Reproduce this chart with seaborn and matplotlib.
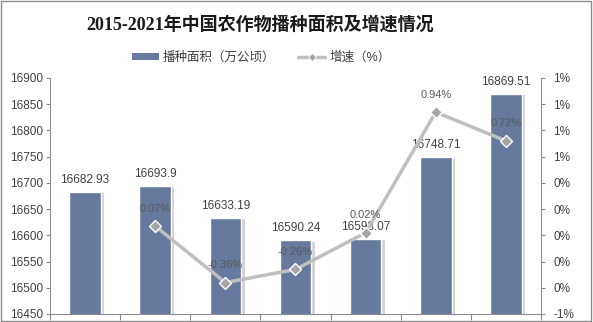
import numpy as np
import pandas as pd
import matplotlib
matplotlib.use("Agg")
import matplotlib.pyplot as plt
import matplotlib.patheffects as pe
from matplotlib.lines import Line2D
from matplotlib.patches import Patch, Rectangle
from matplotlib.ticker import FuncFormatter, MultipleLocator
import seaborn as sns

years = ["2015", "2016", "2017", "2018", "2019", "2020", "2021"]
area = [16682.93, 16693.9, 16633.19, 16590.24, 16593.07, 16748.71, 16869.51]
growth_years = ["2016", "2017", "2018", "2019", "2020", "2021"]
growth = [0.07, -0.36, -0.26, 0.02, 0.94, 0.72]
area_labels = ["16682.93", "16693.9", "16633.19", "16590.24", "16593.07", "16748.71", "16869.51"]
growth_labels = ["0.07%", "-0.36%", "-0.26%", "0.02%", "0.94%", "0.72%"]

title = "2015-2021年中国农作物播种面积及增速情况"
bar_name = "播种面积（万公顷）"
line_name = "增速（%）"

BAR_COLOR = "#67799F"
LINE_COLOR = "#BFBFBF"
MARK_COLOR = "#A6A6A6"
AXIS_COLOR = "#8C8C8C"
TEXT_COLOR = "#404040"

sns.set_theme(style="white")
plt.rcParams["font.family"] = ["Liberation Sans", "Noto Sans CJK SC", "DejaVu Sans"]

df_bar = pd.DataFrame({"year": years, "area": area})
pos = {y: i for i, y in enumerate(years)}
df_line = pd.DataFrame({"x": [pos[y] for y in growth_years], "growth": growth})

fig = plt.figure(figsize=(5.93, 3.22), dpi=100)
ax = fig.add_axes([50 / 593, 1 - 314 / 322, 491 / 593, 236 / 322])

sns.barplot(data=df_bar, x="year", y="area", color=BAR_COLOR, width=0.45,
            saturation=1, ax=ax, zorder=2)
for bar in ax.patches:
    bar.set_path_effects([pe.SimplePatchShadow(offset=(2.5, -1.0), shadow_rgbFace="#7f7f7f", alpha=0.35),
                          pe.Normal()])

ax.set_ylim(16450, 16900)
ax.yaxis.set_major_locator(MultipleLocator(50))
ax.set_xlim(-0.5, len(years) - 0.5)
ax.set_xlabel("")
ax.set_ylabel("")
ax.set_xticks([])
ax.set_xticks(np.arange(-0.5, len(years), 1.0), minor=True)
ax.tick_params(axis="x", which="minor", length=4, color=AXIS_COLOR, width=0.8, direction="out", bottom=True)
ax.tick_params(axis="y", length=3, color=AXIS_COLOR, width=0.8, direction="out", left=True,
               labelsize=8.5, labelcolor=TEXT_COLOR, pad=2)
for s in ["left", "bottom"]:
    ax.spines[s].set_color(AXIS_COLOR)
    ax.spines[s].set_linewidth(0.8)
ax.spines["top"].set_visible(False)
ax.spines["right"].set_visible(False)

for i, (v, lab) in enumerate(zip(area, area_labels)):
    ax.annotate(lab, (i, v), xytext=(0, 4.5), textcoords="offset points",
                ha="center", va="bottom", fontsize=8.5, color=TEXT_COLOR, zorder=5)

ax2 = ax.twinx()
sns.lineplot(data=df_line, x="x", y="growth", ax=ax2, color=LINE_COLOR, linewidth=2.5,
             marker="D", markersize=6, markerfacecolor=MARK_COLOR, markeredgecolor="white",
             markeredgewidth=1.0, zorder=4)
ax2.set_ylim(-0.6, 1.2)
ax2.set_yticks(np.linspace(-0.6, 1.2, 10))
ax2.yaxis.set_major_formatter(FuncFormatter(lambda v, p: f"{round(v)}%"))
ax2.set_ylabel("")
ax2.set_xlabel("")
ax2.set_xlim(-0.5, len(years) - 0.5)
ax2.tick_params(axis="y", length=3, color=AXIS_COLOR, width=0.8, direction="out", right=True,
                labelsize=8.5, labelcolor=TEXT_COLOR, pad=6)
for s in ["left", "top", "bottom"]:
    ax2.spines[s].set_visible(False)
ax2.spines["right"].set_color(AXIS_COLOR)
ax2.spines["right"].set_linewidth(0.8)

for x, v, lab in zip(df_line["x"], growth, growth_labels):
    ax2.annotate(lab, (x, v), xytext=(0, 9), textcoords="offset points",
                 ha="center", va="bottom", fontsize=8, color="#595959", zorder=6)

fig.text(260 / 593, 1 - 25 / 322, title, ha="center", va="center", fontsize=13,
         fontweight="bold", family=["Liberation Serif", "Noto Sans CJK SC"], color="#1a1a1a")

handles = [Patch(facecolor=BAR_COLOR, edgecolor="none"),
           Line2D([0], [0], color=LINE_COLOR, linewidth=2.5, marker="D", markersize=4,
                  markerfacecolor=MARK_COLOR, markeredgecolor="white", markeredgewidth=0.6)]
fig.legend(handles, [bar_name, line_name], loc="center", bbox_to_anchor=(261 / 593, 1 - 58 / 322),
           ncol=2, frameon=False, fontsize=9, handlelength=2.2, handleheight=0.45,
           columnspacing=1.8, handletextpad=0.3, labelcolor=TEXT_COLOR)

fig.patches.append(Rectangle((0.002, 0.003), 0.995, 0.994, transform=fig.transFigure,
                             fill=False, edgecolor=AXIS_COLOR, linewidth=1.0))

fig.savefig("out.png", dpi=100)
